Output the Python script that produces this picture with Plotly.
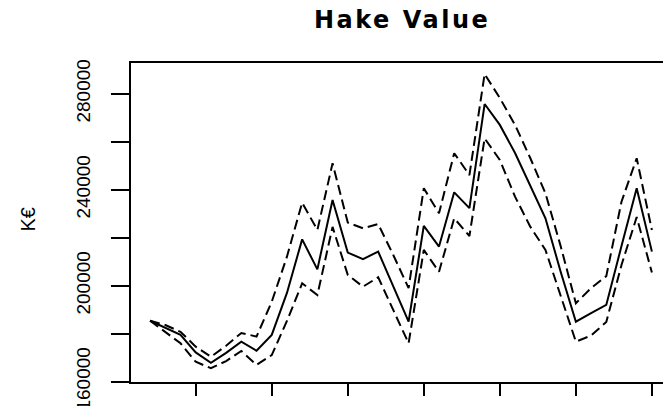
import plotly.graph_objects as go

# Hake landings value (thousand euro) with upper / lower bounds
years = list(range(1987, 2021))
value = [185400, 182400, 179500, 172200, 167900, 172000, 176700, 172900, 179500, 197000,
         219300, 206800, 235700, 213800, 211100, 214200, 199900, 185000, 224900, 216300,
         238900, 232300, 275700, 267000, 255300, 241500, 228100, 205800, 185000, 188600,
         192000, 216500, 240600, 214200]
upper = [185400, 183600, 180800, 174600, 170400, 175000, 180300, 178800, 193300, 212100,
         234600, 223200, 251000, 226300, 223900, 225700, 212700, 199000, 240600, 230200,
         255200, 246100, 288200, 278200, 267000, 253200, 238500, 216500, 192700, 199000,
         204000, 235000, 253100, 223200]
lower = [185400, 180800, 176000, 168300, 165600, 168600, 172800, 167000, 171100, 185300,
         201000, 196100, 224500, 204500, 199600, 203500, 189900, 176000, 214900, 205800,
         228100, 220700, 261400, 252400, 237100, 224600, 214900, 195400, 176700, 179200,
         184900, 208600, 228600, 205500]

x_ticks = [1990, 1995, 2000, 2005, 2010, 2015, 2020]
y_ticks = [160000, 180000, 200000, 220000, 240000, 260000, 280000]
y_tick_text = ["160000", "", "200000", "", "240000", "", "280000"]

fig = go.Figure()
fig.add_trace(go.Scatter(x=years, y=upper, mode="lines",
                         line=dict(color="black", width=2, dash="10px,5px")))
fig.add_trace(go.Scatter(x=years, y=lower, mode="lines",
                         line=dict(color="black", width=2, dash="10px,5px")))
fig.add_trace(go.Scatter(x=years, y=value, mode="lines",
                         line=dict(color="black", width=2)))

fig.update_layout(
    width=663, height=406,
    margin=dict(l=131, r=0, t=63, b=24, autoexpand=False),
    paper_bgcolor="white", plot_bgcolor="white",
    showlegend=False,
    font=dict(family="Liberation Sans, Arial, sans-serif", color="black"),
    xaxis=dict(range=[1985.745, 2020.73], showgrid=False, zeroline=False,
               showline=True, linecolor="black", linewidth=1.5, mirror=True,
               ticks="outside", ticklen=12, tickwidth=1.5, tickcolor="black",
               tickvals=x_ticks, showticklabels=False),
    yaxis=dict(range=[159875, 292792], showgrid=False, zeroline=False,
               showline=True, linecolor="black", linewidth=1.5,
               ticks="outside", ticklen=18, tickwidth=1.5, tickcolor="black",
               tickvals=y_ticks, ticktext=y_tick_text, tickangle=-90,
               tickfont=dict(size=19, family="Liberation Sans, Arial, sans-serif"),
               ticklabelstandoff=14, ticklabeloverflow="allow"),
    annotations=[
        dict(text='<span style="letter-spacing:2.5px">Hake Value</span>',
             xref="paper", yref="paper", x=(402 - 131) / 532, y=1 + (63 - 20) / 319,
             xanchor="center", yanchor="middle", showarrow=False,
             font=dict(family="DejaVu Sans", size=24, color="black", weight="bold")),
        dict(text="K€", xref="paper", yref="paper", x=(27.5 - 131) / 532,
             y=(382 - 220) / 319, xanchor="center", yanchor="middle",
             textangle=-90, showarrow=False,
             font=dict(family="Liberation Sans, Arial, sans-serif", size=20, color="black")),
    ],
)

fig.write_html("out.html")
